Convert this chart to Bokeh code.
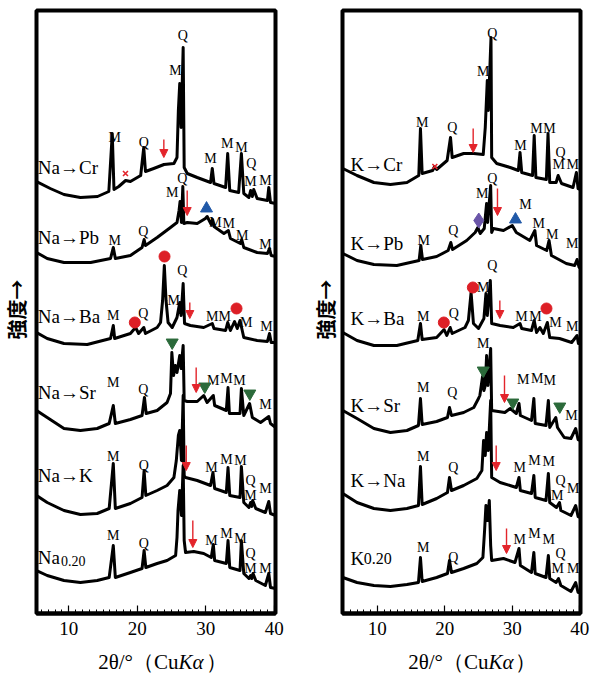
import math
from bokeh.plotting import figure
from bokeh.layouts import row, column
from bokeh.models import Range1d, FixedTicker, Arrow, NormalHead
from bokeh.core.properties import value
from bokeh.embed import file_html
from bokeh.resources import INLINE

# ---------------- data: 2θ (deg) and stacked intensity (a.u.) ----------------
na_cr_2t = [5.3, 7.3, 9.3, 11.7, 14.2, 15.85, 16.35, 16.6, 17.3, 18.3, 19.0, 20.5, 20.95, 21.2, 22.4, 23.9, 25.35, 25.8, 26.0, 26.2, 26.4, 26.7, 26.85, 27.3, 28.75, 30.7, 30.95, 31.2, 32.9, 33.2, 33.5, 34.8, 35.2, 35.55, 36.3, 36.55, 36.8, 37.0, 37.5, 39.0, 39.2, 39.45, 40.2]
na_cr_i = [432, 425, 419, 416, 417, 422, 480, 424, 427, 433, 432, 438, 466, 442, 445, 449, 450, 456, 503, 530, 486, 566, 446, 440, 436, 431, 445, 430, 426, 460, 423, 421, 460, 420, 416, 423, 417, 424, 415, 413, 426, 411, 410]

na_pb_2t = [5.3, 6.85, 9.3, 13.2, 16.1, 16.5, 16.8, 19.0, 20.7, 21.0, 21.2, 22.9, 24.85, 25.8, 26.1, 26.25, 26.45, 26.65, 26.8, 27.3, 28.75, 29.95, 30.2, 30.8, 31.0, 31.2, 32.65, 33.3, 33.6, 35.05, 35.25, 35.55, 37.5, 39.0, 39.3, 39.55, 40.2]
na_pb_i = [361, 355, 351, 351, 355, 366, 355, 358, 366, 374, 368, 376, 386, 391, 403, 412, 391, 427, 390, 391, 390, 395, 397, 389, 394, 387, 380, 383, 375, 370, 374, 366, 361, 360, 365, 358, 357]

na_ba_2t = [5.3, 6.85, 9.3, 12.7, 16.1, 16.5, 16.7, 19.0, 19.75, 20.2, 20.95, 21.2, 22.9, 23.4, 23.7, 23.95, 24.2, 24.5, 25.1, 25.8, 26.2, 26.4, 26.7, 26.9, 27.75, 29.7, 30.95, 31.2, 32.9, 33.2, 33.6, 34.2, 34.6, 35.0, 35.55, 37.5, 39.0, 39.3, 39.55, 40.2]
na_ba_i = [281, 275, 270, 269, 275, 288, 275, 280, 286, 280, 286, 280, 286, 291, 313, 348, 313, 291, 286, 296, 311, 298, 330, 290, 288, 286, 290, 285, 283, 291, 283, 292, 285, 293, 276, 273, 272, 280, 271, 271]

na_sr_2t = [5.3, 6.85, 9.3, 11.7, 14.15, 15.9, 16.5, 16.8, 19.0, 20.7, 21.05, 21.3, 22.9, 24.35, 24.85, 25.05, 25.3, 25.55, 25.8, 26.2, 26.4, 26.7, 26.85, 27.3, 28.75, 29.7, 30.2, 31.1, 31.3, 33.0, 33.25, 33.45, 35.0, 35.2, 35.55, 36.4, 36.8, 38.0, 39.2, 39.45, 40.2]
na_sr_i = [203, 196, 185, 183, 185, 190, 208, 190, 194, 198, 216, 200, 203, 211, 220, 261, 238, 248, 241, 258, 245, 268, 213, 212, 212, 218, 211, 218, 208, 203, 226, 200, 200, 225, 198, 210, 196, 191, 197, 190, 186]

na_k_2t = [5.3, 6.85, 9.3, 11.7, 14.15, 15.9, 16.5, 16.8, 19.0, 20.7, 21.0, 21.25, 22.9, 24.35, 25.35, 25.7, 26.0, 26.2, 26.45, 26.7, 26.85, 27.05, 28.75, 30.7, 31.05, 31.3, 33.0, 33.25, 33.5, 35.0, 35.2, 35.55, 36.3, 36.55, 36.7, 36.85, 37.3, 38.7, 39.2, 39.45, 40.2]
na_k_i = [118, 111, 103, 99, 100, 105, 150, 105, 110, 116, 143, 118, 123, 128, 136, 153, 178, 183, 153, 218, 138, 136, 133, 128, 141, 125, 121, 146, 118, 116, 147, 111, 106, 111, 107, 113, 105, 101, 112, 100, 98]

na020_2t = [5.3, 6.85, 9.3, 11.7, 14.15, 15.9, 16.5, 16.8, 19.0, 20.7, 21.0, 21.25, 22.9, 24.35, 25.6, 25.8, 25.95, 26.2, 26.45, 26.7, 26.85, 27.05, 28.25, 29.7, 30.8, 31.1, 31.3, 33.0, 33.25, 33.5, 35.0, 35.2, 35.55, 36.3, 36.55, 36.7, 36.9, 37.3, 38.7, 39.2, 39.45, 40.2]
na020_i = [43, 38, 33, 31, 33, 36, 68, 36, 41, 45, 63, 46, 50, 53, 58, 76, 103, 123, 98, 148, 73, 61, 62, 60, 56, 69, 53, 50, 73, 46, 43, 73, 40, 35, 38, 35, 40, 33, 28, 40, 26, 25]

k_cr_2t = [4.9, 7.0, 9.5, 11.95, 14.4, 16.15, 16.4, 16.65, 18.2, 18.5, 18.8, 20.35, 20.85, 21.1, 22.8, 24.3, 25.7, 26.0, 26.3, 26.45, 26.85, 26.95, 27.7, 29.7, 30.9, 31.15, 31.4, 33.0, 33.25, 33.5, 35.05, 35.3, 35.55, 36.5, 36.8, 37.3, 39.0, 39.5, 39.75, 40.1]
k_cr_i = [445, 438, 431, 429, 431, 438, 485, 440, 443, 447, 444, 453, 476, 456, 460, 460, 459, 486, 533, 503, 576, 456, 450, 446, 443, 461, 441, 438, 478, 436, 434, 480, 431, 431, 438, 430, 426, 441, 425, 424]

k_pb_2t = [4.9, 7.0, 9.5, 12.9, 16.2, 16.45, 16.7, 18.8, 20.5, 20.9, 21.15, 23.25, 24.5, 24.9, 25.25, 25.85, 26.2, 26.35, 26.8, 26.95, 27.2, 28.7, 30.0, 30.6, 32.6, 33.35, 33.6, 35.1, 35.45, 35.8, 38.0, 39.25, 39.6, 39.9, 40.1]
k_pb_i = [360, 353, 349, 348, 353, 368, 354, 357, 363, 371, 364, 373, 381, 386, 380, 385, 410, 391, 428, 381, 385, 383, 388, 381, 373, 383, 368, 363, 373, 358, 350, 348, 354, 346, 346]

k_ba_2t = [4.9, 7.0, 9.5, 12.9, 16.0, 16.4, 16.65, 18.8, 19.9, 20.3, 20.8, 21.1, 23.0, 23.5, 23.9, 24.25, 25.0, 25.8, 26.1, 26.3, 26.75, 26.95, 28.2, 30.15, 31.15, 31.4, 32.85, 33.25, 33.6, 34.1, 34.6, 35.2, 35.55, 37.0, 38.8, 39.6, 39.8, 40.1]
k_ba_i = [281, 273, 268, 268, 273, 290, 274, 276, 284, 278, 286, 280, 286, 293, 321, 290, 285, 295, 320, 298, 333, 290, 288, 286, 290, 285, 283, 293, 281, 286, 280, 291, 276, 275, 271, 278, 270, 270]

k_sr_2t = [4.9, 7.0, 9.5, 11.95, 14.4, 16.1, 16.4, 16.65, 18.8, 20.4, 20.7, 21.0, 22.8, 24.3, 25.0, 25.2, 25.6, 25.8, 26.0, 26.2, 26.4, 26.8, 26.95, 28.9, 29.7, 30.6, 31.0, 31.2, 32.85, 33.2, 33.4, 35.0, 35.35, 35.55, 36.45, 36.7, 37.7, 38.7, 39.4, 39.75, 40.1]
k_sr_i = [203, 195, 185, 181, 183, 188, 215, 189, 192, 196, 206, 198, 201, 206, 215, 218, 237, 223, 228, 258, 228, 265, 203, 201, 205, 200, 210, 198, 193, 215, 190, 188, 213, 186, 196, 186, 176, 175, 185, 174, 173]

k_na_2t = [4.9, 7.0, 9.5, 11.95, 14.4, 16.1, 16.4, 16.65, 18.8, 20.4, 20.7, 21.0, 22.8, 24.75, 25.5, 25.75, 26.0, 26.2, 26.45, 26.8, 26.95, 28.2, 30.6, 31.0, 31.2, 32.85, 33.2, 33.4, 35.0, 35.35, 35.55, 36.55, 37.0, 37.2, 38.7, 39.4, 39.75, 40.1]
k_na_i = [120, 111, 105, 103, 105, 108, 147, 109, 115, 121, 136, 123, 128, 135, 143, 173, 158, 181, 163, 213, 136, 131, 126, 136, 123, 120, 138, 116, 113, 140, 111, 106, 111, 103, 98, 108, 97, 96]

k020_2t = [4.9, 7.0, 9.5, 11.95, 14.4, 16.1, 16.4, 16.65, 18.8, 20.4, 20.7, 21.0, 22.8, 24.75, 25.65, 25.9, 26.1, 26.35, 26.6, 26.8, 26.95, 28.7, 30.4, 31.0, 31.2, 32.85, 33.2, 33.4, 35.0, 35.35, 35.55, 36.5, 36.85, 37.2, 38.7, 39.4, 39.75, 40.1]
k020_i = [36, 31, 28, 27, 29, 31, 56, 32, 36, 40, 53, 41, 45, 50, 56, 83, 108, 93, 113, 68, 53, 55, 51, 65, 48, 41, 61, 40, 36, 58, 35, 31, 35, 28, 22, 31, 21, 21]

x_ticks = [10, 20, 30, 40]

left_traces = [(na_cr_2t, na_cr_i), (na_pb_2t, na_pb_i), (na_ba_2t, na_ba_i),
               (na_sr_2t, na_sr_i), (na_k_2t, na_k_i), (na020_2t, na020_i)]
right_traces = [(k_cr_2t, k_cr_i), (k_pb_2t, k_pb_i), (k_ba_2t, k_ba_i),
                (k_sr_2t, k_sr_i), (k_na_2t, k_na_i), (k020_2t, k020_i)]

left_samples = [("Na→Cr", 5.48, 446), ("Na→Pb", 5.48, 376), ("Na→Ba", 5.48, 297),
                ("Na→Sr", 5.48, 221), ("Na→K", 5.48, 138)]
right_samples = [("K→Cr", 6.04, 449), ("K→Pb", 6.04, 370), ("K→Ba", 6.04, 295),
                 ("K→Sr", 6.04, 208), ("K→Na", 6.04, 133)]

left_phase = [
    ("M", 16.72, 476), ("Q", 20.96, 471), ("M", 25.58, 543), ("Q", 26.65, 578), ("M", 30.69, 455),
    ("M", 33.13, 470), ("M", 35.22, 466), ("Q", 36.63, 450), ("M", 36.53, 432), ("M", 38.72, 433),
    ("M", 16.72, 373), ("Q", 20.87, 382), ("M", 25.1, 421), ("Q", 26.56, 435), ("M", 31.42, 391),
    ("M", 33.36, 390), ("M", 35.32, 378), ("M", 38.72, 369),
    ("M", 16.49, 298), ("Q", 20.87, 300), ("M", 25.34, 313), ("Q", 26.56, 343), ("M", 30.94, 297),
    ("M", 32.78, 297), ("M", 35.9, 291), ("M", 38.87, 287),
    ("M", 16.49, 231), ("Q", 20.87, 224), ("M", 31.09, 233), ("M", 33.03, 235), ("M", 34.93, 233),
    ("M", 38.72, 209),
    ("M", 16.49, 157), ("Q", 20.96, 148), ("M", 30.84, 146), ("M", 33.03, 154), ("M", 35.07, 153),
    ("Q", 36.53, 133), ("M", 36.53, 118), ("M", 38.72, 125),
    ("M", 16.49, 78), ("Q", 20.96, 70), ("M", 30.84, 73), ("M", 33.03, 80), ("M", 35.07, 75),
    ("Q", 36.53, 60), ("M", 36.53, 45), ("M", 38.72, 45),
]
right_phase = [
    ("M", 16.66, 491), ("Q", 21.1, 486), ("M", 25.7, 542), ("Q", 27.03, 580), ("M", 31.22, 468),
    ("M", 33.59, 485), ("M", 35.52, 485), ("Q", 37.15, 461), ("M", 36.9, 449), ("M", 38.97, 449),
    ("M", 16.9, 373), ("Q", 21.25, 383), ("M", 25.55, 420), ("Q", 27.03, 435), ("M", 31.96, 409),
    ("M", 33.93, 390), ("M", 35.92, 379), ("M", 38.88, 370),
    ("M", 16.81, 297), ("Q", 21.34, 300), ("M", 25.7, 326), ("Q", 27.03, 348), ("M", 31.37, 297),
    ("M", 33.44, 297), ("M", 36.41, 291), ("M", 38.88, 287),
    ("M", 16.81, 226), ("Q", 21.1, 221), ("M", 25.7, 270), ("M", 31.62, 234), ("M", 33.7, 235),
    ("M", 35.56, 233), ("M", 38.78, 198),
    ("M", 16.81, 157), ("Q", 21.25, 146), ("M", 31.12, 146), ("M", 33.3, 153), ("M", 35.41, 152),
    ("Q", 37.15, 133), ("M", 36.66, 118), ("M", 39.03, 125),
    ("M", 16.81, 66), ("Q", 21.25, 56), ("M", 31.12, 74), ("M", 33.3, 80), ("M", 35.41, 74),
    ("Q", 37.15, 60), ("M", 36.75, 45), ("M", 39.03, 45),
]

left_marks = {
    "circle": [(19.64, 291), (23.98, 357), (34.49, 305)],
    "triangle": [(30.11, 405)],
    "inverted_triangle": [(25.1, 271), (29.86, 227), (36.43, 220)],
    "x": [(18.28, 440)],
}
right_marks = {
    "circle": [(19.86, 291), (24.16, 326), (35.07, 305)],
    "triangle": [(30.48, 394)],
    "inverted_triangle": [(25.7, 243), (30.08, 211), (37.04, 207)],
    "diamond": [(25.04, 393)],
    "x": [(18.53, 447)],
}
left_arrows = [(23.88, 474, 456), (27.29, 423, 398), (27.67, 311, 295), (28.6, 246, 221),
               (27.15, 168, 143), (28.11, 93, 66)]
right_arrows = [(24.21, 485, 461), (27.81, 425, 398), (28.16, 313, 295), (28.85, 238, 211),
                (27.62, 168, 143), (29.15, 85, 60)]

# ---------------- styles ----------------
SERIF = "Liberation Serif"
SERIF_ARROW = "Liberation Serif, DejaVu Serif"
RED = "#e3242b"
mark_style = {
    "circle": dict(size=11, fill_color="#dd1f26", line_color="#dd1f26"),
    "triangle": dict(size=12, fill_color="#2159a8", line_color="#2159a8"),
    "inverted_triangle": dict(size=12, fill_color="#2b6a3a", line_color="#2b6a3a"),
    "diamond": dict(size=15, fill_color="#6a55a8", line_color="#6a55a8"),
    "x": dict(size=7, line_color=RED, line_width=1.6),
}


def blank(width, height, xr, yr, bl=0, br=0):
    f = figure(width=width, height=height, x_range=Range1d(*xr), y_range=Range1d(*yr),
               output_backend="svg", toolbar_location=None, x_axis_location=None, y_axis_location=None,
               min_border_left=bl, min_border_right=br, min_border_top=0, min_border_bottom=0)
    f.xgrid.visible = False
    f.ygrid.visible = False
    f.outline_line_color = None
    return f


def ylabel_strip(width, cx):
    f = blank(width, 677, (0, width), (0, 677))
    f.text([cx], [368], text=["強度→"], angle=math.pi / 2, text_font=value("Noto Sans CJK JP"),
           text_font_style="bold", text_font_size="20px", text_align="center", text_baseline="middle",
           text_color="black")
    return f


def panel(traces, samples, sub_main, sub_x, phase, marks, arrows, xr, width, bl, br,
          title_split, close_x):
    p = figure(width=width, height=645, x_range=Range1d(*xr), y_range=Range1d(0, 603),
               output_backend="svg", toolbar_location=None, y_axis_location=None,
               min_border_left=bl, min_border_right=br, min_border_top=10, min_border_bottom=32)
    p.xgrid.visible = False
    p.ygrid.visible = False
    p.outline_line_color = "black"
    p.outline_line_width = 4
    p.background_fill_color = "white"
    ax = p.xaxis[0]
    ax.ticker = FixedTicker(ticks=x_ticks, minor_ticks=list(range(5, 41)))
    ax.axis_line_width = 4
    ax.axis_line_color = "black"
    ax.major_tick_in = 8
    ax.major_tick_out = 0
    ax.minor_tick_in = 4
    ax.minor_tick_out = 0
    ax.major_tick_line_width = 1.2
    ax.minor_tick_line_width = 1
    ax.major_label_text_font = SERIF
    ax.major_label_text_font_size = "19px"
    ax.major_label_text_color = "black"
    ax.major_label_standoff = 8

    for xs, ys in traces:
        p.line(xs, ys, line_color="black", line_width=3, line_join="round")

    p.text([s[1] for s in samples], [s[2] for s in samples], text=[s[0] for s in samples],
           text_font=value(SERIF_ARROW), text_font_size="19px", text_baseline="middle", text_align="left",
           text_color="black")
    p.text([sub_main[1]], [sub_main[2]], text=[sub_main[0]], text_font=value(SERIF),
           text_font_size="19px", text_baseline="alphabetic", text_align="left", text_color="black")
    p.text([sub_x[1]], [sub_x[2]], text=[sub_x[0]], text_font=value(SERIF),
           text_font_size=sub_x[3], text_baseline="alphabetic", text_align="left", text_color="black")

    p.text([t[1] for t in phase], [t[2] for t in phase], text=[t[0] for t in phase],
           text_font=value(SERIF), text_font_size="14px", text_baseline="middle", text_align="center",
           text_color="black")

    for mk, pts in marks.items():
        p.scatter([a for a, b in pts], [b for a, b in pts], marker=mk, **mark_style[mk])

    for x, y0, y1 in arrows:
        p.add_layout(Arrow(x_start=x, y_start=y0, x_end=x, y_end=y1, line_color=RED, line_width=1.4,
                           end=NormalHead(size=8, fill_color=RED, line_color=RED, line_width=1)))

    # x-axis title strip (mixed upright / italic text)
    t = blank(width, 32, xr, (0, 32), bl, br)
    t.text([title_split], [16], text=["2θ/°（Cu"], text_font=value(SERIF), text_font_size="21px",
           text_align="right", text_baseline="middle", text_color="black")
    t.text([title_split], [16], text=["Kα"], text_font=value(SERIF), text_font_style="italic",
           text_font_size="21px", text_align="left", text_baseline="middle", text_color="black")
    t.text([close_x], [16], text=["）"], text_font=value(SERIF), text_font_size="21px",
           text_align="left", text_baseline="middle", text_color="black")
    return column(p, t)


y1 = ylabel_strip(30, 16)
c1 = panel(left_traces, left_samples, ("Na", 5.48, 56), ("0.20", 8.85, 53, "14px"), left_phase, left_marks,
           left_arrows, (5.29, 40.18), 270, 6, 25, 26.02, 30.1)
y2 = ylabel_strip(40, 25)
c2 = panel(right_traces, right_samples, ("K", 6.04, 55), ("0.20", 8.0, 55, "16px"), right_phase, right_marks,
           right_arrows, (4.85, 40.11), 253, 2, 13, 26.48, 30.48)

layout = row(y1, c1, y2, c2)
open("out.html", "w").write(file_html(layout, INLINE))
